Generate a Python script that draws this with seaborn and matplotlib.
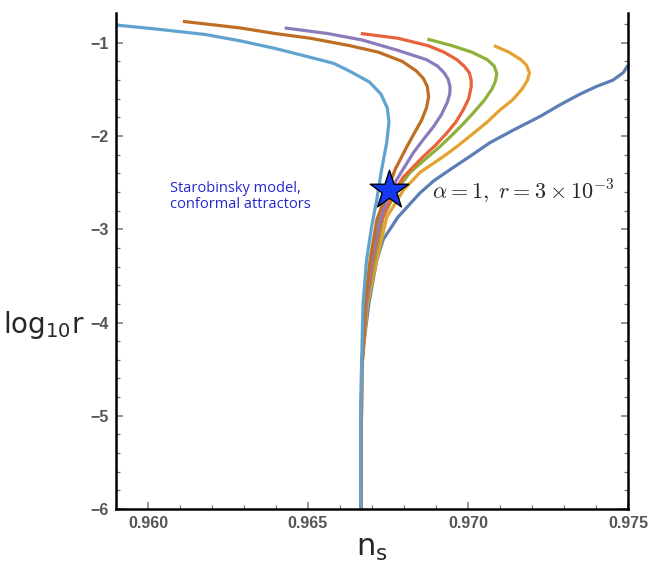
import numpy as np
import pandas as pd
import seaborn as sns
import matplotlib.pyplot as plt
from matplotlib.ticker import MultipleLocator

# values (n_s, log10 r) for each curve, bottom to top
ns_blue = [0.96665, 0.96665, 0.96668, 0.96690, 0.96715, 0.96735, 0.96781, 0.96850, 0.96893, 0.96944,
           0.97005, 0.97069, 0.97145, 0.97225, 0.97290, 0.97350, 0.97400, 0.97453, 0.97485, 0.97500]
lr_blue = [-6.00, -5.00, -4.40, -3.80, -3.33, -3.11, -2.87, -2.61, -2.48, -2.36,
           -2.22, -2.07, -1.93, -1.79, -1.66, -1.55, -1.47, -1.40, -1.32, -1.24]

ns_orange = [0.96665, 0.96668, 0.96686, 0.96715, 0.96746, 0.96798, 0.96850, 0.96923, 0.96970, 0.97017,
             0.97060, 0.97100, 0.97140, 0.97168, 0.97186, 0.97192, 0.97183, 0.97165, 0.97128, 0.97081]
lr_orange = [-6.00, -4.50, -3.80, -3.33, -2.87, -2.58, -2.39, -2.22, -2.10, -1.97,
             -1.85, -1.72, -1.61, -1.50, -1.40, -1.32, -1.24, -1.18, -1.10, -1.03]

ns_green = [0.96665, 0.96668, 0.96684, 0.96709, 0.96735, 0.96777, 0.96819, 0.96876, 0.96910, 0.96944, 0.96982,
            0.97017, 0.97050, 0.97074, 0.97085, 0.97090, 0.97082, 0.97060, 0.97012, 0.96950, 0.96873]
lr_green = [-6.00, -4.50, -3.80, -3.33, -2.87, -2.58, -2.39, -2.22, -2.12, -2.01, -1.88,
            -1.75, -1.62, -1.50, -1.42, -1.33, -1.25, -1.18, -1.10, -1.03, -0.96]

ns_red = [0.96665, 0.96668, 0.96682, 0.96704, 0.96730, 0.96767, 0.96798, 0.96860, 0.96898, 0.96933, 0.96962,
          0.96985, 0.97002, 0.97010, 0.97010, 0.97004, 0.96988, 0.96965, 0.96925, 0.96875, 0.96780, 0.96665]
lr_red = [-6.00, -4.50, -3.80, -3.33, -2.90, -2.61, -2.44, -2.22, -2.10, -1.97, -1.85,
          -1.72, -1.60, -1.47, -1.40, -1.32, -1.25, -1.18, -1.10, -1.03, -0.95, -0.90]

ns_purple = [0.96665, 0.96668, 0.96680, 0.96699, 0.96725, 0.96754, 0.96782, 0.96829, 0.96862, 0.96892, 0.96917,
             0.96935, 0.96943, 0.96944, 0.96938, 0.96925, 0.96905, 0.96870, 0.96780, 0.96670, 0.96561, 0.96427]
lr_purple = [-6.00, -4.50, -3.80, -3.33, -2.90, -2.60, -2.44, -2.18, -2.03, -1.90, -1.77,
             -1.64, -1.55, -1.47, -1.39, -1.32, -1.25, -1.18, -1.08, -0.97, -0.90, -0.84]

ns_brown = [0.96665, 0.96668, 0.96678, 0.96694, 0.96715, 0.96746, 0.96772, 0.96808, 0.96832, 0.96855, 0.96870,
            0.96877, 0.96873, 0.96860, 0.96838, 0.96795, 0.96720, 0.96630, 0.96506, 0.96397, 0.96288, 0.96109]
lr_brown = [-6.00, -4.50, -3.80, -3.33, -2.90, -2.61, -2.36, -2.12, -1.97, -1.83, -1.70,
            -1.58, -1.47, -1.38, -1.30, -1.20, -1.10, -1.03, -0.95, -0.90, -0.84, -0.77]

ns_light = [0.96665, 0.96665, 0.96667, 0.96672, 0.96683, 0.96699, 0.96715, 0.96730, 0.96746, 0.96753, 0.96748,
            0.96728, 0.96692, 0.96628, 0.96580, 0.96490, 0.96397, 0.96290, 0.96178, 0.96020, 0.95902]
lr_light = [-6.00, -5.30, -4.50, -3.80, -3.33, -2.97, -2.68, -2.36, -2.07, -1.85, -1.70,
            -1.55, -1.42, -1.30, -1.22, -1.14, -1.06, -0.98, -0.91, -0.85, -0.81]

curves = ["blue", "orange", "green", "red", "purple", "brown", "light"]
colors = ["#5B7FB4", "#E5A22E", "#8DB13A", "#E8623A", "#8B7BBA", "#BF6E24", "#60A3CF"]

star_ns, star_lr = 0.96754, -2.58

ns_all = [ns_blue, ns_orange, ns_green, ns_red, ns_purple, ns_brown, ns_light]
lr_all = [lr_blue, lr_orange, lr_green, lr_red, lr_purple, lr_brown, lr_light]
frames = []
for name, xs, ys in zip(curves, ns_all, lr_all):
    frames.append(pd.DataFrame({"ns": xs, "logr": ys, "curve": name}))
df = pd.concat(frames, ignore_index=True)

sns.set_style("white")
plt.rcParams["mathtext.fontset"] = "custom"
plt.rcParams["mathtext.rm"] = "Lato"
plt.rcParams["mathtext.it"] = "Lato:italic"

fig = plt.figure(figsize=(6.49, 5.68), dpi=100)
ax = fig.add_axes([116 / 649, 1 - 509 / 568, 512 / 649, 496 / 568])

sns.lineplot(data=df, x="ns", y="logr", hue="curve", hue_order=curves, palette=colors,
             sort=False, estimator=None, units="curve", linewidth=2.3, legend=False, ax=ax)
for ln in ax.lines:
    ln.set_solid_joinstyle("round")
    ln.set_solid_capstyle("butt")

ax.scatter([star_ns], [star_lr], marker="*", s=850, color="#1538F5", edgecolor="black",
           linewidth=1.0, zorder=10)

ax.text(0.96069, -2.65, "Starobinsky model,\nconformal attractors", color="#2727CC",
        fontsize=10.5, family="Open Sans", va="center", ha="left", linespacing=1.15)
ax.text(0.96888, -2.59, r"$\alpha=1,\ r=3\times10^{-3}$", fontsize=16, va="center", ha="left",
        math_fontfamily="cm")

ax.set_xlim(0.959, 0.975)
ax.set_ylim(-6, -0.68)
ax.xaxis.set_minor_locator(MultipleLocator(0.001))
ax.yaxis.set_major_locator(MultipleLocator(1))
ax.yaxis.set_minor_locator(MultipleLocator(0.2))
ax.set_xticks([0.960, 0.965, 0.970, 0.975])
ax.set_xticklabels(["0.960", "0.965", "0.970", "0.975"])
ax.tick_params(which="both", direction="in", color="#777777", left=True, right=True,
               bottom=True, top=False, labelright=False)
ax.tick_params(which="major", length=5, width=1.1, labelsize=11.5, labelcolor="#555555", pad=5)
ax.tick_params(which="minor", length=3, width=0.9)
for lab in ax.get_xticklabels() + ax.get_yticklabels():
    lab.set_fontweight("bold")
    lab.set_family("Liberation Sans")

for side in ["left", "right", "bottom"]:
    ax.spines[side].set_color("black")
    ax.spines[side].set_linewidth(1.8)
ax.spines["top"].set_visible(False)

ax.set_xlabel(r"$\mathregular{n_s}$", fontsize=22, labelpad=2)
ax.set_ylabel(r"$\mathregular{log_{10}r}$", fontsize=20, rotation=0, ha="right", va="center")
ax.yaxis.set_label_coords(-0.062, 0.37)

fig.savefig("out.png", dpi=100)
